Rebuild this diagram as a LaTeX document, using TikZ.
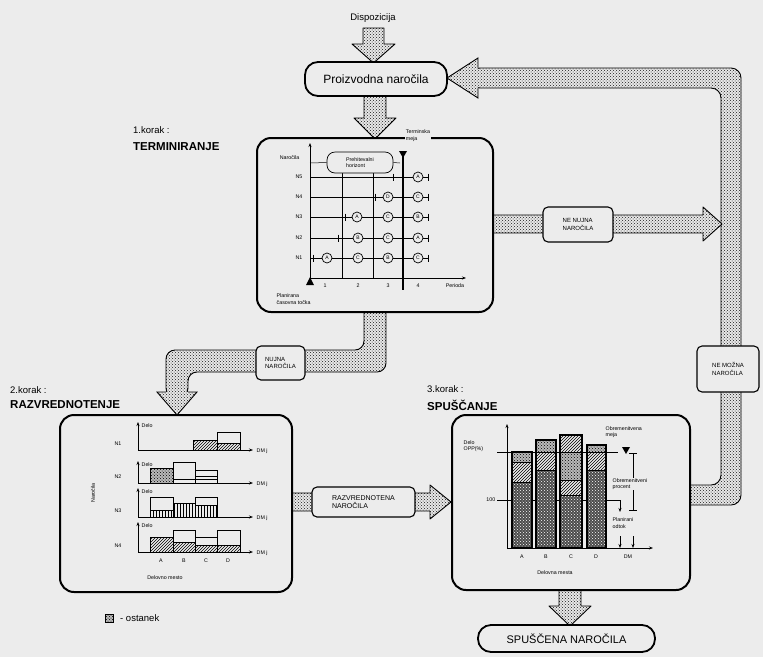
\documentclass[tikz,border=0pt]{standalone}
\usepackage{fontspec}
\setmainfont{Liberation Sans}
\usetikzlibrary{patterns,arrows.meta}
\definecolor{bgcol}{RGB}{236,236,236}
\tikzset{
  stip/.style={draw=black,line width=0.9pt,line join=round,preaction={fill=gray!18},pattern=crosshatch dots,pattern color=black!90},
  stipfill/.style={preaction={fill=gray!18},pattern=crosshatch dots,pattern color=black!90},
  stepbox/.style={draw,line width=2pt,rounded corners=14pt,fill=bgcol,inner sep=0pt},
  pillbox/.style={draw,line width=1.8pt,rounded corners=13pt,fill=bgcol,inner sep=0pt},
  lbox/.style={draw,line width=1.1pt,rounded corners=5pt,fill=bgcol,inner sep=0pt,align=left,font=\fontsize{6}{7.5}\selectfont},
  txtxs/.style={font=\fontsize{5.3}{6.3}\selectfont,inner sep=0.5pt},
  txts/.style={font=\fontsize{9.5}{11}\selectfont,inner sep=0pt},
  hdtxt/.style={font=\fontsize{11.5}{13}\selectfont\bfseries,inner sep=0pt},
  ordc/.style={circle,draw,line width=0.7pt,minimum size=10pt,inner sep=0pt,fill=bgcol,font=\fontsize{5}{5}\selectfont},
  dhatch/.style={pattern=north east lines},
  vhatch/.style={pattern=vertical lines},
  chk/.style={fill=black!70,postaction={pattern=crosshatch dots,pattern color=white}},
  ost/.style={fill=gray!55,postaction={pattern=crosshatch dots,pattern color=black}},
  barst/.style={draw,line width=0.9pt},
  ax/.style={line width=0.7pt,-{Stealth[length=4pt,width=3pt]}},
  thinl/.style={line width=0.5pt},
}
\begin{document}
\begin{tikzpicture}[x=1pt,y=-1pt]
\fill[bgcol] (0,0) rectangle (763,657);
\useasboundingbox (0,0) rectangle (763,657);

% ---------- fat arrows ----------
\path[stip] (363,28) -- (363,44) -- (352,44) -- (373.5,63) -- (395,44) -- (384,44) -- (384,28) -- cycle;
\path[stip] (364,90) -- (364,118) -- (354,118) -- (375,139) -- (396,118) -- (386,118) -- (386,90) -- cycle;
% return loop
\path[stip,rounded corners=10pt] (680,485) -- (721,485) -- (721,88) -- (470,88) -- (470,68) -- (741,68) -- (741,505) -- (680,505) -- cycle;
\path[stipfill] (478,58) -- (447,78) -- (478,98) -- cycle;
\draw[line width=0.9pt] (478,68) -- (478,58) -- (447,78) -- (478,98) -- (478,88);
% ne nujna
\path[stip] (485,215) -- (703,215) -- (703,207) -- (722,224) -- (703,241) -- (703,233) -- (485,233) -- cycle;
% nujna (bent)
\path[stip,rounded corners=9pt] (364,300) -- (364,350) -- (166,350) -- (166,397) -- (188,397) -- (188,372) -- (386,372) -- (386,300) -- cycle;
\path[stipfill] (157,392) -- (177,415) -- (197,392) -- cycle;
\draw[line width=0.9pt] (166,392) -- (157,392) -- (177,415) -- (197,392) -- (188,392);
% razvrednotena
\path[stip] (285,493) -- (430,493) -- (430,485) -- (451,502) -- (430,519) -- (430,511) -- (285,511) -- cycle;
% bottom
\path[stip] (559,585) -- (559,606) -- (549,606) -- (570,626) -- (591,606) -- (581,606) -- (581,585) -- cycle;

% ---------- boxes ----------
\node[stepbox,minimum width=236pt,minimum height=174pt] (s1) at (375,225) {};
\node[stepbox,minimum width=232pt,minimum height=177pt] (s2) at (176,503.5) {};
\node[stepbox,minimum width=238pt,minimum height=175pt] (s3) at (571,502.5) {};
\node[pillbox,minimum width=142pt,minimum height=34pt,font=\fontsize{12}{14}\selectfont] (po) at (376,79) {Proizvodna naročila};
\node[pillbox,minimum width=177pt,minimum height=27pt,font=\fontsize{11}{13}\selectfont] (sn) at (566.5,638.5) {SPUŠČENA NAROČILA};
\node[lbox,minimum width=70pt,minimum height=35pt] (nn) at (578,224.5) {NE NUJNA\\NAROČILA};
\node[lbox,minimum width=49pt,minimum height=34pt] (nu) at (280.5,363) {NUJNA\\NAROČILA};
\node[lbox,minimum width=103pt,minimum height=30pt,font=\fontsize{7}{8.5}\selectfont] (rn) at (363.5,502) {RAZVREDNOTENA\\NAROČILA};
\node[lbox,minimum width=62pt,minimum height=46pt] (nm) at (728,369) {NE MOŽNA\\NAROČILA};

% ---------- headings ----------
\node[txts] (disp) at (373,18) {Dispozicija};
\node[txts,anchor=west] (k1) at (133,130) {1.korak :};
\node[hdtxt,anchor=west] (t1) at (133,147) {TERMINIRANJE};
\node[txts,anchor=west] (k2) at (10,390) {2.korak :};
\node[hdtxt,anchor=west] (t2) at (10,405) {RAZVREDNOTENJE};
\node[txts,anchor=west] (k3) at (427,389) {3.korak :};
\node[hdtxt,anchor=west] (t3) at (427,405) {SPUŠČANJE};

% ---------- step 1 chart ----------
\draw[line width=0.6pt] (342,173) -- (342,278);
\draw[line width=0.6pt] (373,173) -- (373,278);
\foreach \y/\l [count=\i] in {177/N5,197/N4,217/N3,238/N2,258/N1}{
  \draw[thinl] (310,\y) -- (428,\y);
  \draw[line width=0.9pt] (428,\y-3.5) -- (428,\y+3.5);
  \node[txtxs,anchor=east] (rl\i) at (303,\y) {\l};
}
\foreach \x/\y in {393/177,375/197,345/217,338/238,313/258}{
  \draw[line width=0.9pt] (\x,\y-3.5) -- (\x,\y+3.5);
}
\draw[ax] (310,284) -- (310,143);
\draw[ax] (310,278) -- (466,278);
\fill (306,285) -- (314,285) -- (310,277) -- cycle;
\draw[line width=1.2pt] (403,155) -- (403,290);
\fill (399,151) -- (407,151) -- (403,158) -- cycle;
\node[draw,rounded corners=8pt,line width=0.7pt,minimum width=66pt,minimum height=21pt,fill=bgcol,align=left,font=\fontsize{5.3}{6.3}\selectfont,inner sep=0pt] (ph) at (360,162.5) {Prehitevalni\\horizont};
\draw[thinl] (310,163) -- (ph.west);
\draw[thinl] (ph.east) -- (400,163);
\foreach \x/\y/\l [count=\i] in {418/177/A,388/197/D,418/197/C,357/217/A,388/217/C,418/217/B,358/238/B,388/238/C,418/238/A,327/258/A,358/258/C,388/258/B,418/258/C}{
  \node[ordc] (c\i) at (\x,\y) {\l};
}
\node[txtxs,anchor=east] (nar1) at (300,158) {Naročila};
\foreach \x/\l [count=\i] in {325/1,358/2,388/3,418/4}{ \node[txtxs] (p\i) at (\x,286) {\l}; }
\node[txtxs] (per) at (455,286) {Perioda};
\node[txtxs,anchor=west,align=left] (pct) at (276,299) {Planirana\\časovna točka};
\node[txtxs,fill=bgcol,align=left,inner sep=1pt] (tm) at (418,135.5) {Terminska\\meja};

% ---------- step 2 charts ----------
\foreach \b/\t/\l [count=\i] in {450/422/N1,483/461/N2,517/488/N3,552/522/N4}{
  \draw[ax] (138,\b) -- (138,\t);
  \draw[ax] (138,\b) -- (253,\b);
  \node[txtxs] (nl\i) at (118,\b-6) {\l};
  \node[txtxs,anchor=west] (dl\i) at (141,\t+4) {Delo};
  \node[txtxs,anchor=west] (dm\i) at (256,\b+1) {DM j};
}
% N1
\path[barst,dhatch] (193,440) rectangle (217,450);
\draw[barst] (217,432) rectangle (240,450);
\path[barst,dhatch] (217,443) rectangle (240,450);
% N2
\path[barst,ost] (150,468) rectangle (173,483);
\draw[barst] (173,462) rectangle (195,483);
\draw[barst] (173,479) -- (195,479);
\draw[barst] (195,470) rectangle (217,483);
\draw[thinl] (195,476) -- (217,476);
\draw[thinl] (195,479) -- (217,479);
% N3
\draw[barst] (150,497) rectangle (173,517);
\path[barst,vhatch] (150,510) rectangle (173,517);
\path[barst,vhatch] (173,503) rectangle (195,517);
\draw[barst] (195,497) rectangle (217,517);
\path[barst,vhatch] (195,505) rectangle (217,517);
% N4
\path[barst,dhatch] (150,537) rectangle (173,552);
\draw[barst] (173,530) rectangle (195,552);
\path[barst,dhatch] (173,542) rectangle (195,552);
\draw[barst] (195,537) rectangle (217,552);
\path[barst,dhatch] (195,545) rectangle (217,552);
\draw[barst] (217,530) rectangle (240,552);
\path[barst,dhatch] (217,545) rectangle (240,552);
\foreach \x/\l [count=\i] in {161/A,184/B,206/C,228/D}{ \node[txtxs] (al\i) at (\x,561) {\l}; }
\node[txtxs] (dmo) at (165,578) {Delovno mesto};
\node[txtxs,rotate=90] (nar2) at (93,493) {Naročila};

% legend
\path[draw,line width=0.6pt,ost] (105,614) rectangle (113,622);
\node[txts,anchor=west] (ostl) at (120,618) {- ostanek};

% ---------- step 3 chart ----------
\draw[line width=0.6pt] (497,452) -- (618,452);
\draw[line width=0.6pt] (497,500) -- (620,500);
% A
\path[barst,chk] (512,482) rectangle (532,548);
\path[barst,dhatch] (512,462) rectangle (532,482);
\path[barst,ost] (512,452) rectangle (532,462);
% B
\path[barst,chk] (536,470) rectangle (556,548);
\path[barst,dhatch] (536,452) rectangle (556,470);
\path[barst,ost] (536,440) rectangle (556,452);
% C
\path[barst,chk] (560,495) rectangle (582,548);
\path[barst,dhatch] (560,480) rectangle (582,495);
\path[barst,ost] (560,452) rectangle (582,480);
\path[barst,dhatch] (560,435) rectangle (582,452);
% D
\path[barst,chk] (587,470) rectangle (606,548);
\path[barst,dhatch] (587,452) rectangle (606,470);
\path[barst,ost] (587,445) rectangle (606,452);
\draw[line width=1.1pt] (512,452) rectangle (532,548) (536,440) rectangle (556,548) (560,435) rectangle (582,548) (587,445) rectangle (606,548);
\draw[ax] (507,549) -- (507,424);
\draw[ax] (507,548) -- (653,548);
\node[txtxs,anchor=west,align=left] (opp) at (463,446) {Delo\\OPP(\%)};
\node[txtxs,anchor=east] (h100) at (496,500) {100};
\foreach \x/\l [count=\i] in {522/A,546/B,571/C,596/D}{ \node[txtxs] (bl\i) at (\x,557) {\l}; }
\node[txtxs] (dmx) at (628,557) {DM};
\node[txtxs] (dms) at (555,573) {Delovna mesta};
% annotations
\fill (622,447) -- (630,447) -- (626,454) -- cycle;
\draw[line width=0.7pt] (633,453) -- (633,510);
\draw[line width=0.7pt] (629,453) -- (637,453);
\draw[line width=0.7pt] (629,510) -- (637,510);
\draw[line width=0.9pt,-{Stealth[length=4pt,width=3pt]}] (620,500) -- (620,512);
\draw[line width=0.9pt,-{Stealth[length=4pt,width=3pt]}] (620,536) -- (620,548);
\draw[line width=0.9pt,-{Stealth[length=4pt,width=3pt]}] (633,536) -- (633,548);
\node[txtxs,anchor=west,align=left] (obm) at (605,432) {Obremenitvena\\meja};
\node[txtxs,anchor=west,align=left,fill=bgcol] (obp) at (612,484) {Obremenitveni\\procent};
\node[txtxs,anchor=west,align=left,fill=bgcol] (plo) at (612,523) {Planirani\\odtok};
\end{tikzpicture}
\end{document}
